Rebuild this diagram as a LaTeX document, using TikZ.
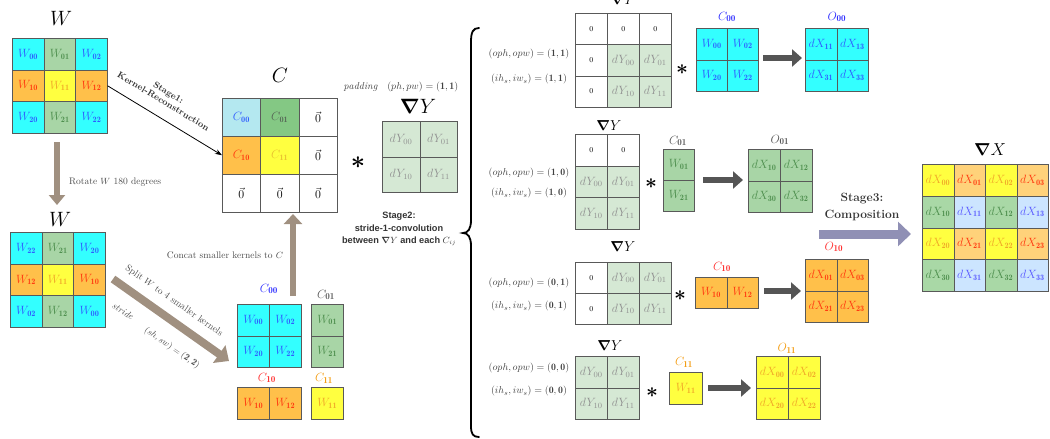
\documentclass[tikz,border=0pt]{standalone}
\usepackage{amsmath,bm}
\usepackage{fontspec}
\newfontfamily\stagefont{Liberation Sans}
\usetikzlibrary{arrows.meta}
\definecolor{cyF}{HTML}{33FFFF}
\definecolor{blT}{HTML}{2F5CFF}
\definecolor{grF}{HTML}{A8D5A6}
\definecolor{grT}{HTML}{4E8F4E}
\definecolor{orF}{HTML}{FFC04A}
\definecolor{rdT}{HTML}{FF3A10}
\definecolor{yeF}{HTML}{FFFF40}
\definecolor{yeT}{HTML}{F0A828}
\definecolor{lbF}{HTML}{B4E8F0}
\definecolor{cgF}{HTML}{84C884}
\definecolor{cgT}{HTML}{556655}
\definecolor{cyeT}{HTML}{E8C030}
\definecolor{dyF}{HTML}{D5E8D4}
\definecolor{dyT}{HTML}{909090}
\definecolor{xoF}{HTML}{FFD27A}
\definecolor{xgF}{HTML}{A9D8A6}
\definecolor{xbF}{HTML}{CCE5FF}
\definecolor{xbT}{HTML}{5A5AFF}
\definecolor{brA}{HTML}{A09080}
\definecolor{gA}{HTML}{555555}
\definecolor{pA}{HTML}{9090B5}
\definecolor{lblue}{HTML}{3030FF}
\definecolor{lred}{HTML}{FF3030}
\definecolor{lorange}{HTML}{F39C12}
\newcommand\Wc[1]{$W_{\mathbf{#1}}$}
\newcommand\dYc[1]{$dY_{#1}$}
\newcommand\dXc[1]{$dX_{\mathbf{#1}}$}
\newcommand\Cc[1]{$C_{\mathbf{#1}}$}
\newcommand\Oc[1]{$O_{\mathbf{#1}}$}
\newcommand\zc{{\fontsize{7.5}{8}\selectfont 0}}
\newcommand\vz{$\vec{0}$}
\newcommand\mgrid[6]{%
  \foreach \ri/\ci/\ff/\tc/\ss in {#6}{%
    \node[mcell,fill=\ff,text=\tc,minimum width=#4pt,minimum height=#5pt,anchor=north west]
      (#1-\ri\ci) at ({#2+\ci*#4},{#3+\ri*#5}) {\ss};}}
\begin{document}
\begin{tikzpicture}[x=1pt,y=-1pt,
  mcell/.style={draw=black!65, line width=0.5pt, inner sep=0pt, font=\fontsize{11.8}{13}\selectfont},
  ttl/.style={font=\fontsize{20}{22}\selectfont, inner sep=0pt},
  sttl/.style={font=\fontsize{14}{16}\selectfont, inner sep=0pt},
  klab/.style={font=\fontsize{13}{14}\selectfont, inner sep=0pt},
  plab/.style={font=\fontsize{9.8}{11}\selectfont, text=black!75, inner sep=0pt},
  gtext/.style={font=\fontsize{9.5}{11}\selectfont, text=black!70, inner sep=0pt},
  brarrow/.style={draw=brA, line width=6pt, -{Triangle[length=10pt,width=16pt]}},
  garrow/.style={draw=gA, line width=6pt, -{Triangle[length=10pt,width=17pt]}},
  bigstar/.style={font=\fontsize{34}{34}\selectfont, inner sep=0pt},
  smstar/.style={font=\fontsize{20}{20}\selectfont, inner sep=0pt}]
\useasboundingbox (0,0) rectangle (1050,439);

% ---------- W (original) ----------
\node[ttl] (tW1) at (61,18) {$W$};
\mgrid{Wa}{12}{38}{31.7}{31.7}{0/0/cyF/blT/\Wc{00},0/1/grF/grT/\Wc{01},0/2/cyF/blT/\Wc{02},
 1/0/orF/rdT/\Wc{10},1/1/yeF/yeT/\Wc{11},1/2/orF/rdT/\Wc{12},
 2/0/cyF/blT/\Wc{20},2/1/grF/grT/\Wc{21},2/2/cyF/blT/\Wc{22}}

% ---------- W (rotated) ----------
\node[ttl] (tW2) at (60,219) {$W$};
\mgrid{Wb}{10}{232}{31.7}{31.7}{0/0/cyF/blT/\Wc{22},0/1/grF/grT/\Wc{21},0/2/cyF/blT/\Wc{20},
 1/0/orF/rdT/\Wc{12},1/1/yeF/yeT/\Wc{11},1/2/orF/rdT/\Wc{10},
 2/0/cyF/blT/\Wc{02},2/1/grF/grT/\Wc{12},2/2/cyF/blT/\Wc{00}}

% rotate arrow
\coordinate (rotA) at (57,142);
\coordinate (rotB) at (57,205);
\draw[brarrow] (rotA) -- (rotB);
\node[gtext, anchor=west] (rotlab) at (69,182) {Rotate $W$ 180 degrees};

% ---------- C ----------
\node[ttl] (tC) at (280,75) {$C$};
\mgrid{Cm}{222}{98}{38.3}{38}{0/0/lbF/blT/\Cc{00},0/1/cgF/cgT/\Cc{01},0/2/white/black/\vz,
 1/0/orF/rdT/\Cc{10},1/1/yeF/cyeT/\Cc{11},1/2/white/black/\vz,
 2/0/white/black/\vz,2/1/white/black/\vz,2/2/white/black/\vz}

% stage 1 arrow
\draw[line width=0.8pt, -{Stealth[length=7pt,width=5pt]}] (Wa-12.east) -- (Cm-10.west);
\node[font=\fontsize{9}{10}\selectfont\bfseries, text=black!80, align=center, rotate=-31, inner sep=0pt]
  (st1) at (166,97) {Stage1:\\Kernel-Reconstruction};

% ---------- main dY ----------
\node[bigstar] (star0) at (358,163) {$\bm{\ast}$};
\node[plab, font=\fontsize{10}{11}\selectfont] (padlab) at (401,87) {$\mathit{padding}\quad (ph, pw) = (\mathbf{1},\mathbf{1})$};
\node[ttl] (tY0) at (418,106) {$\bm{\nabla}Y$};
\mgrid{Y0}{382}{121}{37.5}{35.5}{0/0/dyF/dyT/\dYc{00},0/1/dyF/dyT/\dYc{01},
 1/0/dyF/dyT/\dYc{10},1/1/dyF/dyT/\dYc{11}}

% stage 2 text
\node[font=\stagefont\bfseries\fontsize{9.2}{12.5}\selectfont, text=black!80, align=center, inner sep=0pt]
  (st2) at (399,229) {Stage2:\\stride-1-convolution\\between $\bm{\nabla}Y$ and each $C_{ij}$};

% ---------- small kernels ----------
\node[klab, text=lblue] (lC00) at (269,289) {\Cc{00}};
\mgrid{Ka}{237}{304}{32}{31.5}{0/0/cyF/blT/\Wc{00},0/1/cyF/blT/\Wc{02},
 1/0/cyF/blT/\Wc{20},1/1/cyF/blT/\Wc{22}}
\node[klab, text=black!65] (lC01) at (326,295) {\Cc{01}};
\mgrid{Kb}{311}{304}{32}{31.5}{0/0/grF/grT/\Wc{01},1/0/grF/grT/\Wc{21}}
\node[klab, text=lred] (lC10) at (267,378) {\Cc{10}};
\mgrid{Kc}{237}{387}{32}{32}{0/0/orF/rdT/\Wc{10},0/1/orF/rdT/\Wc{12}}
\node[klab, text=lorange] (lC11) at (324,378) {\Cc{11}};
\mgrid{Kd}{311}{387}{32}{32}{0/0/yeF/yeT/\Wc{11}}

% split arrow
\coordinate (spA) at (113,279);
\coordinate (spB) at (229,361);
\draw[brarrow, line width=8pt, -{Triangle[length=12pt,width=21pt]}] (spA) -- (spB);
\node[gtext, rotate=-35] (splab) at (174,301) {Split $W$ to 4 smaller kernels};
\node[gtext, rotate=-32] (strlab) at (123,311) {$\mathit{stride}$};
\node[gtext, rotate=-35] (swlab) at (172,348) {$(sh, sw) = (\mathbf{2},\mathbf{2})$};

% concat arrow
\coordinate (ccA) at (293,296);
\coordinate (ccB) at (293,214);
\draw[brarrow, -{Triangle[length=10pt,width=18pt]}] (ccA) -- (ccB);
\node[gtext] (cclab) at (225,255) {Concat smaller kernels to $C$};

% ---------- brace ----------
\draw[line width=1.8pt, line cap=round] (479,28) .. controls (473,28) and (471,32) .. (471,42)
  -- (471,220) .. controls (471,229) and (468,233) .. (463,233)
  .. controls (468,233) and (471,237) .. (471,246) -- (471,426)
  .. controls (471,434) and (473,437) .. (479,437);

% ---------- row 1 ----------
\node[plab] (r1la) at (529,54) {$(oph, opw) = (\mathbf{1},\mathbf{1})$};
\node[plab] (r1lb) at (529,79) {$(ih_s, iw_s) = (\mathbf{1},\mathbf{1})$};
\node[sttl] (r1t) at (623,0) {$\bm{\nabla}Y$};
\mgrid{Ra}{575}{13}{32}{31.3}{0/0/white/black/\zc,0/1/white/black/\zc,0/2/white/black/\zc,
 1/0/white/black/\zc,1/1/dyF/dyT/\dYc{00},1/2/dyF/dyT/\dYc{01},
 2/0/white/black/\zc,2/1/dyF/dyT/\dYc{10},2/2/dyF/dyT/\dYc{11}}
\node[smstar] (r1s) at (682,70) {$\bm{\ast}$};
\node[klab, text=lblue] (r1cl) at (727,17) {\Cc{00}};
\mgrid{Rb}{696}{28}{31}{31.5}{0/0/cyF/blT/\Wc{00},0/1/cyF/blT/\Wc{02},
 1/0/cyF/blT/\Wc{20},1/1/cyF/blT/\Wc{22}}
\coordinate (r1A) at (763,58);
\coordinate (r1B) at (802,58);
\draw[garrow] (r1A) -- (r1B);
\node[klab, text=lblue] (r1ol) at (837,17) {\Oc{00}};
\mgrid{Rc}{805}{28}{31.5}{31.5}{0/0/cyF/blT/\dXc{11},0/1/cyF/blT/\dXc{13},
 1/0/cyF/blT/\dXc{31},1/1/cyF/blT/\dXc{33}}

% ---------- row 2 ----------
\node[plab] (r2la) at (529,173) {$(oph, opw) = (\mathbf{1},\mathbf{0})$};
\node[plab] (r2lb) at (529,193) {$(ih_s, iw_s) = (\mathbf{1},\mathbf{0})$};
\node[sttl] (r2t) at (609,126) {$\bm{\nabla}Y$};
\mgrid{Sa}{575}{134}{32}{31.7}{0/0/white/black/\zc,0/1/white/black/\zc,
 1/0/dyF/dyT/\dYc{00},1/1/dyF/dyT/\dYc{01},
 2/0/dyF/dyT/\dYc{10},2/1/dyF/dyT/\dYc{11}}
\node[smstar] (r2s) at (651,184) {$\bm{\ast}$};
\node[klab, text=black!65] (r2cl) at (678,141) {\Cc{01}};
\mgrid{Sb}{663}{149}{31}{31}{0/0/grF/grT/\Wc{01},1/0/grF/grT/\Wc{21}}
\coordinate (r2A) at (703,180);
\coordinate (r2B) at (743,180);
\draw[garrow] (r2A) -- (r2B);
\node[klab, text=black!65] (r2ol) at (780,140) {\Oc{01}};
\mgrid{Sc}{748}{149}{32}{31.5}{0/0/grF/grT/\dXc{10},0/1/grF/grT/\dXc{12},
 1/0/grF/grT/\dXc{30},1/1/grF/grT/\dXc{32}}

% ---------- row 3 ----------
\node[plab] (r3la) at (529,283) {$(oph, opw) = (\mathbf{0},\mathbf{1})$};
\node[plab] (r3lb) at (529,306) {$(ih_s, iw_s) = (\mathbf{0},\mathbf{1})$};
\node[sttl] (r3t) at (623,247) {$\bm{\nabla}Y$};
\mgrid{Ta}{575}{262}{32}{31}{0/0/white/black/\zc,0/1/dyF/dyT/\dYc{00},0/2/dyF/dyT/\dYc{01},
 1/0/white/black/\zc,1/1/dyF/dyT/\dYc{10},1/2/dyF/dyT/\dYc{11}}
\node[smstar] (r3s) at (680,296) {$\bm{\ast}$};
\node[klab, text=lred] (r3cl) at (722,267) {\Cc{10}};
\mgrid{Tb}{695}{277}{31.5}{31}{0/0/orF/rdT/\Wc{10},0/1/orF/rdT/\Wc{12}}
\coordinate (r3A) at (764,291);
\coordinate (r3B) at (801,291);
\draw[garrow] (r3A) -- (r3B);
\node[klab, text=lred] (r3ol) at (834,247) {\Oc{10}};
\mgrid{Tc}{805}{259}{31.5}{31.5}{0/0/orF/rdT/\dXc{01},0/1/orF/rdT/\dXc{03},
 1/0/orF/rdT/\dXc{21},1/1/orF/rdT/\dXc{23}}

% ---------- row 4 ----------
\node[plab] (r4la) at (529,368) {$(oph, opw) = (\mathbf{0},\mathbf{0})$};
\node[plab] (r4lb) at (529,391) {$(ih_s, iw_s) = (\mathbf{0},\mathbf{0})$};
\node[sttl] (r4t) at (610,346) {$\bm{\nabla}Y$};
\mgrid{Ua}{575}{356}{32}{31.5}{0/0/dyF/dyT/\dYc{00},0/1/dyF/dyT/\dYc{01},
 1/0/dyF/dyT/\dYc{10},1/1/dyF/dyT/\dYc{11}}
\node[smstar] (r4s) at (652,393) {$\bm{\ast}$};
\node[klab, text=lorange] (r4cl) at (684,362) {\Cc{11}};
\mgrid{Ub}{669}{372}{33}{32}{0/0/yeF/yeT/\Wc{11}}
\coordinate (r4A) at (708,388);
\coordinate (r4B) at (751,388);
\draw[garrow] (r4A) -- (r4B);
\node[klab, text=lorange] (r4ol) at (787,348) {\Oc{11}};
\mgrid{Uc}{756}{356}{32}{31.5}{0/0/yeF/yeT/\dXc{00},0/1/yeF/yeT/\dXc{02},
 1/0/yeF/yeT/\dXc{20},1/1/yeF/yeT/\dXc{22}}

% ---------- stage 3 ----------
\coordinate (s3A) at (819,234);
\coordinate (s3B) at (911,234);
\draw[draw=pA, line width=9pt, -{Triangle[length=13pt,width=24pt]}] (s3A) -- (s3B);
\node[font=\fontsize{12}{17}\selectfont\bfseries, text=black!80, align=center, inner sep=0pt]
  (st3) at (862,207) {Stage3:\\Composition};

\node[font=\fontsize{16}{18}\selectfont, inner sep=0pt] (tX) at (990,150) {$\bm{\nabla}X$};
\mgrid{X}{922}{164}{31.5}{31.75}{0/0/yeF/yeT/\dXc{00},0/1/xoF/rdT/\dXc{01},0/2/yeF/yeT/\dXc{02},0/3/xoF/rdT/\dXc{03},
 1/0/xgF/grT/\dXc{10},1/1/xbF/xbT/\dXc{11},1/2/xgF/grT/\dXc{12},1/3/xbF/xbT/\dXc{13},
 2/0/yeF/yeT/\dXc{20},2/1/xoF/rdT/\dXc{21},2/2/yeF/yeT/\dXc{22},2/3/xoF/rdT/\dXc{23},
 3/0/xgF/grT/\dXc{30},3/1/xbF/xbT/\dXc{31},3/2/xgF/grT/\dXc{32},3/3/xbF/xbT/\dXc{33}}
\end{tikzpicture}
\end{document}
